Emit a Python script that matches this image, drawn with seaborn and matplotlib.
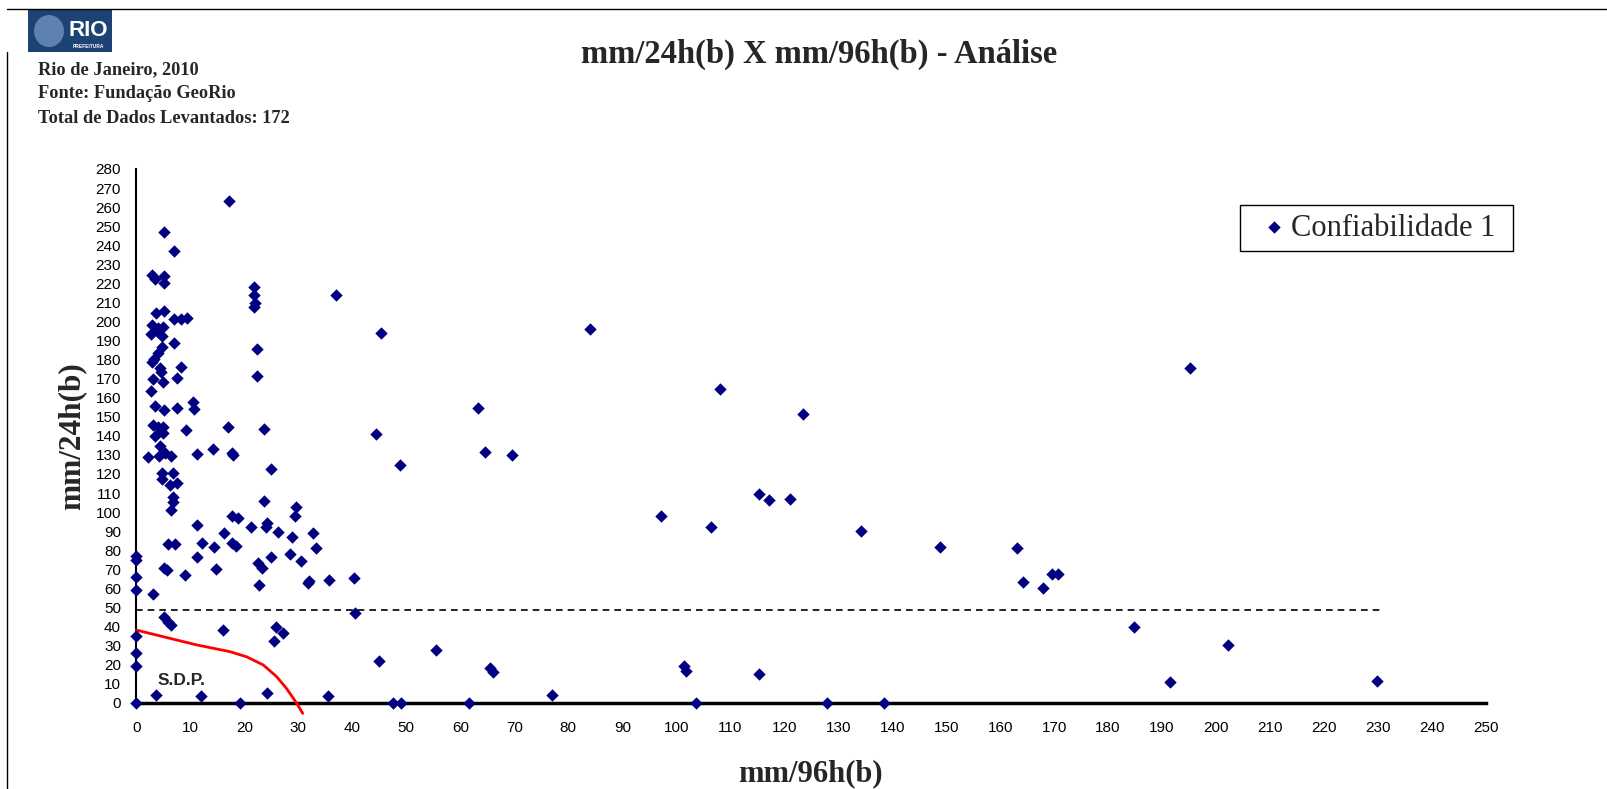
import matplotlib
matplotlib.use("Agg")
import matplotlib.pyplot as plt
import seaborn as sns
import pandas as pd
from matplotlib.patches import Rectangle, Ellipse
from matplotlib.lines import Line2D

# ---------------- data ----------------
mm96 = [
    0, 0, 0, 0, 0, 0, 0, 0,
    17.2, 5.1, 6.9, 2.8, 3.5, 5.1, 5.1, 3.6, 5.1, 7.0, 8.3, 9.4, 2.9, 4.0, 4.9, 2.7,
    4.0, 4.8, 6.9, 4.8, 4.0, 3.3, 2.8, 4.3, 8.2, 4.6, 7.5, 3.1, 4.9, 2.7, 3.5, 5.1,
    7.5, 10.5, 10.7, 3.1, 4.0, 4.9, 9.1, 16.9,
    3.5, 5.0, 4.4, 2.2, 4.1, 5.3, 6.4, 11.2, 14.1, 17.8, 17.9, 4.8, 6.7, 4.7, 6.2,
    7.6, 6.8, 6.8, 6.5, 11.2, 16.3, 17.7, 18.8, 5.8, 7.2, 12.1, 14.3, 17.7, 18.4,
    11.2, 5.2, 5.6, 9.0, 14.7, 3.1, 5.2, 5.9, 6.4, 16.1, 3.6, 12.0, 19.2,
    21.8, 21.8, 21.7, 21.9, 37.0, 45.4, 22.4, 22.4, 23.6, 44.3, 24.9, 23.7, 29.5,
    29.4, 21.2, 24.2, 24.0, 26.3, 28.8, 32.7, 33.3, 25.0, 28.4, 30.4, 22.6, 23.3,
    32.0, 31.8, 35.7, 40.3, 22.7, 40.5, 25.9, 27.1, 25.5, 45.0, 24.2, 35.5,
    63.3, 64.6, 69.5, 48.8, 55.5, 47.5, 49.0, 61.7, 65.5, 66.1, 76.9, 84.0, 97.1,
    101.4, 101.8, 103.7, 106.4, 108.1, 115.3, 117.2, 121.0, 115.3, 123.5, 127.9,
    134.3, 138.5, 148.9, 163.2, 164.3, 167.9, 169.6, 170.8, 184.8, 191.5, 195.1,
    202.3, 229.9,
]
mm24 = [
    0, 19, 26, 35, 59, 66, 75, 77,
    263, 247, 237, 224.4, 222.5, 224, 220.4, 204.3, 205.4, 201.5, 201.2, 201.9, 198.4, 196.4, 197.3, 193.5,
    194.5, 192.6, 188.9, 186.8, 183.3, 180.5, 179, 175.8, 176, 173.4, 170.4, 169.7, 168, 163.6, 155.4, 153.3,
    154.5, 157.8, 154.1, 145.7, 144.9, 144.9, 143.1, 144.9,
    140, 141.5, 134.7, 129.1, 129.4, 131.2, 129.4, 130.5, 133, 131.2, 130, 120.3, 120.7, 117.2, 114.2,
    115.1, 108.1, 105.5, 101.1, 93.2, 88.8, 98, 97, 83.3, 83.3, 83.6, 81.5, 83.6, 82.3,
    76.7, 70.7, 69.5, 67, 69.9, 57, 45.2, 42.5, 40.7, 38.2, 4.0, 3.4, 0,
    218.3, 213.9, 207.8, 209.5, 213.9, 194.1, 185.4, 171.6, 143.4, 141, 122.4, 106, 102.5,
    98, 92, 94.1, 92, 89.7, 87.1, 88.8, 80.9, 76.2, 78, 74.3, 73.1, 70.5,
    64.1, 63, 64.4, 65.6, 61.8, 47.2, 39.5, 36.6, 32.2, 22, 5.2, 3.7,
    154.8, 131.7, 130, 124.7, 27.4, 0, 0, 0, 18.3, 16.1, 3.8, 196.2, 97.8,
    19.3, 16.7, 0, 92.4, 164.5, 109.6, 106.4, 107, 15, 151.6, 0,
    90.3, 0, 81.7, 81.2, 63.4, 60.2, 67.7, 67.7, 39.8, 10.7, 175.7,
    30.1, 11.3,
]
series_label = "Confiabilidade 1"

# S.D.P. boundary curve and the threshold line
curve_x = [0, 5.0, 11.2, 17.3, 20.4, 23.5, 26.0, 27.8, 29.7, 30.8]
curve_y = [38.1, 34.6, 30.3, 26.8, 24.1, 19.8, 13.6, 7.5, -0.3, -5.6]
threshold_y = 48.4
threshold_x_end = 231

x_ticks = list(range(0, 251, 10))
y_ticks = list(range(0, 281, 10))

df = pd.DataFrame({"mm/96h(b)": mm96, "mm/24h(b)": mm24})

# ---------------- style ----------------
sns.set_style("white")
plt.rcParams["font.family"] = ["Liberation Sans", "DejaVu Sans"]
SERIF = ["Liberation Serif", "DejaVu Serif"]

W, H = 1608, 789
fig = plt.figure(figsize=(W / 100, H / 100), dpi=100)
ax = fig.add_axes([136.4 / W, 1 - 702.7 / H, (1486 - 136.4) / W, (702.7 - 169) / H])

sns.scatterplot(data=df, x="mm/96h(b)", y="mm/24h(b)", ax=ax, marker="D",
                color="#000080", s=40, linewidth=0, label=series_label,
                clip_on=False, zorder=5, legend=True)

sns.lineplot(x=curve_x, y=curve_y, ax=ax, sort=False, estimator=None,
             color="red", linewidth=2, clip_on=False, zorder=4)

ax.hlines(threshold_y, 0, threshold_x_end, colors="black", linestyles=(0, (4, 3)),
          linewidth=1.2, zorder=3)

ax.text(3.9, 11.9, "S.D.P.", fontsize=12.5, fontweight="bold", va="center",
        ha="left", family=["Liberation Sans", "DejaVu Sans"])

ax.set_xlim(0, 250)
ax.set_ylim(0, 280)
ax.set_xticks(x_ticks)
ax.set_yticks(y_ticks)
ax.set_xlabel("")
ax.set_ylabel("")
ax.tick_params(axis="both", direction="out", length=5, width=1.2, colors="black",
               labelsize=11)
ax.tick_params(axis="y", pad=6)
ax.tick_params(axis="x", pad=8)
for side in ["top", "right"]:
    ax.spines[side].set_visible(False)
ax.spines["bottom"].set_linewidth(2.5)
ax.spines["left"].set_linewidth(1.5)
ax.spines["bottom"].set_color("black")
ax.spines["left"].set_color("black")
ax.grid(False)

# legend (frame drawn separately)
leg = ax.legend(loc="center left", bbox_to_anchor=(1250 / W, 1 - 228 / H),
                bbox_transform=fig.transFigure, frameon=False,
                prop={"family": SERIF, "size": 22}, handlelength=0.6,
                handletextpad=0.25, borderpad=0, markerscale=1.0)
fig.add_artist(Rectangle((1240 / W, 1 - 251 / H), 273 / W, 46 / H,
                         transform=fig.transFigure, fill=False,
                         edgecolor="black", linewidth=1))

# axis titles
fig.text(71.8 / W, 1 - 435.8 / H, "mm/24h(b)", rotation=90, ha="center",
         va="center", fontsize=22.5, fontweight="bold", family=SERIF)
fig.text(810 / W, 1 - 774 / H, "mm/96h(b)", ha="center", va="center",
         fontsize=22, fontweight="bold", family=SERIF)

# title and header
fig.text(819 / W, 1 - 54.4 / H, "mm/24h(b) X mm/96h(b) - Análise", ha="center",
         va="center", fontsize=23.5, fontweight="bold", family=SERIF)
for txt, yc in [("Rio de Janeiro, 2010", 70),
                ("Fonte: Fundação GeoRio", 94),
                ("Total de Dados Levantados: 172", 118.5)]:
    fig.text(38 / W, 1 - yc / H, txt, ha="left", va="center", fontsize=13.2,
             fontweight="bold", family=SERIF)

# page frame lines
fig.add_artist(Line2D([7 / W, 1], [1 - 9 / H, 1 - 9 / H], color="black", linewidth=1))
fig.add_artist(Line2D([7 / W, 7 / W], [0, 1 - 52 / H], color="black", linewidth=1))

# logo
fig.add_artist(Rectangle((28 / W, 1 - 52 / H), 84 / W, 42 / H,
                         transform=fig.transFigure, facecolor="#1d4274",
                         edgecolor="none"))
fig.add_artist(Ellipse((49 / W, 1 - 31 / H), 30 / W, 32 / H,
                       transform=fig.transFigure, facecolor="#6f93c0",
                       edgecolor="none", alpha=0.8))
fig.text(88 / W, 1 - 31 / H, "RIO", ha="center", va="center", fontsize=16,
         fontweight="bold", color="white")
fig.text(88 / W, 1 - 46 / H, "PREFEITURA", ha="center", va="center", fontsize=3.5,
         fontweight="bold", color="white")

fig.savefig("out.png", dpi=100)
